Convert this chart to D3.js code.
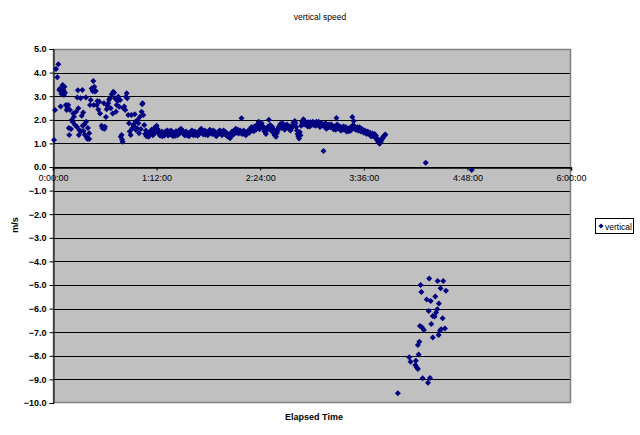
<!DOCTYPE html>
<html><head><meta charset="utf-8">
<script src="https://cdn.jsdelivr.net/npm/d3@7"></script>
<style>body{margin:0;background:#fff}svg{display:block}text{font-family:"Liberation Sans",Arial,sans-serif}</style>
</head><body><svg id="c" width="640" height="435"></svg>
<script>
// Elapsed time in minutes, vertical speed in m/s
const ascentEarly = [[0.7,1.14],[1.4,2.42],[2.1,4.15],[3.0,3.80],[3.7,4.35],[4.4,3.26],[4.9,3.33],[5.3,2.56],[5.8,3.10],[6.3,3.12],[6.7,3.47],[7.2,3.26],[7.6,3.05],[8.0,3.40],[8.4,3.15],[9.0,2.63],[9.5,2.42],[10.0,2.51],[10.6,2.63],[11.0,1.65],[11.3,1.36],[11.8,2.42],[12.5,1.61],[13.0,1.99],[13.7,1.92],[14.1,2.27],[14.6,2.13],[15.3,1.78],[16.0,2.34],[16.5,1.71],[16.9,2.94],[17.3,3.25],[17.6,2.49],[18.0,1.36],[18.3,1.57],[19.2,2.91],[19.6,1.50],[20.0,2.17],[20.4,3.26],[20.6,1.75],[21.0,2.31],[21.3,1.53],[21.8,1.80],[22.2,1.36],[22.9,2.94],[23.0,1.92],[23.4,1.28],[23.8,1.20],[24.3,1.65],[25.2,1.19],[25.2,1.43],[25.7,2.63],[26.2,2.84],[26.9,3.33],[27.6,3.22],[28.0,3.64],[28.3,2.63],[28.7,3.40],[29.2,3.20],[29.7,3.22],[30.4,2.63],[30.9,2.80],[31.5,2.44],[32.2,2.77],[32.7,2.27],[33.8,1.75],[34.3,1.65],[35.0,1.64],[35.4,2.70],[35.8,1.62],[36.1,1.71],[36.8,2.12],[37.3,2.45],[37.8,2.60],[38.4,2.70],[39.0,2.85],[39.6,2.91],[40.1,2.49],[40.8,3.08],[41.5,2.27],[41.9,3.19],[42.5,3.15],[43.1,2.91],[43.8,2.34],[44.3,2.63],[44.8,2.80],[45.4,2.98],[46.0,2.55],[46.6,2.84],[47.1,1.28],[47.7,1.36],[48.0,1.17],[48.4,1.07],[48.9,2.49],[49.5,2.56],[50.2,2.42],[50.7,2.98],[51.2,3.12],[51.6,2.91],[52.3,2.20],[52.8,1.85],[53.3,1.50],[54.0,1.36],[54.5,2.20],[55.1,1.64],[55.8,1.78],[56.3,1.71],[56.8,2.23],[57.3,1.92],[57.7,1.57],[58.3,1.64],[58.8,1.99],[59.3,1.85],[59.8,1.43],[60.5,2.13],[61.0,1.61],[61.6,2.34],[62.0,2.66],[62.3,2.70],[62.8,2.20],[63.4,1.78]];
const ascentSteady = [[64,1.40],[65,1.30],[66,1.45],[67,1.35],[68,1.50],[69,1.42],[70,1.60],[71,1.68],[72,1.75],[73,1.55],[74,1.45],[75,1.38],[76,1.30],[77,1.42],[78,1.50],[79,1.40],[80,1.33],[81,1.45],[82,1.55],[83,1.48],[84,1.38],[85,1.32],[86,1.42],[87,1.52],[88,1.58],[89,1.62],[90,1.55],[91,1.48],[92,1.40],[93,1.35],[94,1.42],[95,1.38],[96,1.45],[97,1.50],[98,1.42],[99,1.36],[100,1.40],[101,1.48],[102,1.55],[103,1.62],[104,1.50],[105,1.45],[106,1.38],[107,1.42],[108,1.50],[109,1.58],[110,1.52],[111,1.45],[112,1.40],[113,1.36],[114,1.44],[115,1.50],[116,1.55],[117,1.48],[118,1.42],[119,1.45],[120,1.38],[121,1.30],[122,1.35],[123,1.22],[124,1.32],[125,1.45],[126,1.55],[127,1.62],[128,1.50],[129,1.42],[130,1.55],[131,2.07],[132,1.48],[133,1.40],[134,1.35],[135,1.45],[136,1.55],[137,1.62],[138,1.70],[139,1.65],[140,1.72],[141,1.58],[142,1.80],[143,1.92],[144,1.75],[145,1.85],[146,1.68],[147,1.50],[148,1.40],[149,1.65],[150,2.00],[151,1.78],[152,1.62],[153,1.45],[154,1.35],[155,1.28],[156,1.50],[157,1.70],[158,1.82],[159,1.75],[160,1.65],[161,1.58],[162,1.68],[163,1.75],[164,1.62],[165,1.55],[166,1.68],[167,1.88],[168,1.95],[169,1.70],[170,1.40],[171,1.21],[172,1.35],[173,1.92],[174,2.02],[175,1.95],[176,1.85],[177,1.72],[178,1.80],[179,1.90],[180,1.85],[181,1.78],[182,1.88],[183,1.92],[184,1.85],[185,1.80],[186,1.88],[187,1.75],[188,0.68],[189,1.70],[190,1.62],[191,1.75],[192,1.80],[193,1.68],[194,1.72],[195,1.60],[196,1.65],[197,2.08],[198,1.75],[199,1.62],[200,1.55],[201,1.68],[202,1.72],[203,1.60],[204,1.50],[205,1.58],[206,1.65],[207,1.55],[208,2.12],[209,1.95],[210,1.70],[211,1.62],[212,1.55],[213,1.68],[214,1.50],[215,1.58],[216,1.45],[217,1.52],[218,1.40],[219,1.48],[220,1.38],[221,1.30],[222,1.42],[223,1.35],[224,1.25],[225,1.15],[226,1.05],[227,0.98],[228,1.10],[229,1.22],[230,1.30],[231,1.38]];
const ascentSteadyHalf = [[64.5,1.55],[65.5,1.38],[66.5,1.28],[67.5,1.48],[68.5,1.58],[69.5,1.35],[70.5,1.45],[71.5,1.52],[72.5,1.62],[73.5,1.40],[74.5,1.32],[75.5,1.50],[76.5,1.45],[77.5,1.33],[78.5,1.42],[79.5,1.55],[80.5,1.50],[81.5,1.38],[82.5,1.42],[83.5,1.30],[84.5,1.45],[85.5,1.52],[86.5,1.35],[87.5,1.40],[88.5,1.45],[89.5,1.50],[90.5,1.42],[91.5,1.35],[92.5,1.50],[93.5,1.45],[94.5,1.30],[95.5,1.48],[96.5,1.55],[97.5,1.35],[98.5,1.50],[99.5,1.45],[100.5,1.32],[101.5,1.40],[102.5,1.45],[103.5,1.50],[104.5,1.38],[105.5,1.55],[106.5,1.48],[107.5,1.35],[108.5,1.42],[109.5,1.48],[110.5,1.40],[111.5,1.55],[112.5,1.48],[113.5,1.30],[114.5,1.38],[115.5,1.42],[116.5,1.48],[117.5,1.35],[118.5,1.55],[119.5,1.50],[120.5,1.45],[121.5,1.40],[122.5,1.28],[123.5,1.40],[124.5,1.50],[125.5,1.38],[126.5,1.48],[127.5,1.45],[128.5,1.58],[129.5,1.50],[130.5,1.45],[131.5,1.40],[132.5,1.55],[133.5,1.48],[134.5,1.40],[135.5,1.52],[136.5,1.45],[137.5,1.55],[138.5,1.60],[139.5,1.52],[140.5,1.62],[141.5,1.70],[142.5,1.65],[143.5,1.60],[144.5,1.68],[145.5,1.75],[146.5,1.60],[147.5,1.62],[148.5,1.55],[149.5,1.72],[150.5,1.68],[151.5,1.55],[152.5,1.70],[153.5,1.58],[154.5,1.48],[155.5,1.42],[156.5,1.62],[157.5,1.75],[158.5,1.65],[159.5,1.85],[160.5,1.72],[161.5,1.65],[162.5,1.80],[163.5,1.68],[164.5,1.72],[165.5,1.62],[166.5,1.75],[167.5,1.80],[168.5,1.85],[169.5,1.55],[170.5,1.30],[171.5,1.48],[172.5,1.75],[173.5,1.85],[174.5,1.80],[175.5,1.88],[176.5,1.78],[177.5,1.90],[178.5,1.72],[179.5,1.82],[180.5,1.92],[181.5,1.85],[182.5,1.75],[183.5,1.80],[184.5,1.92],[185.5,1.70],[186.5,1.80],[187.5,1.82],[188.5,1.78],[189.5,1.85],[190.5,1.70],[191.5,1.68],[192.5,1.72],[193.5,1.80],[194.5,1.65],[195.5,1.72],[196.5,1.58],[197.5,1.80],[198.5,1.68],[199.5,1.72],[200.5,1.62],[201.5,1.58],[202.5,1.65],[203.5,1.70],[204.5,1.62],[205.5,1.52],[206.5,1.60],[207.5,1.70],[208.5,1.78],[209.5,1.62],[210.5,1.58],[211.5,1.68],[212.5,1.60],[213.5,1.55],[214.5,1.62],[215.5,1.50],[216.5,1.55],[217.5,1.45],[218.5,1.50],[219.5,1.42],[220.5,1.45],[221.5,1.35],[222.5,1.30],[223.5,1.40],[224.5,1.32],[225.5,1.20],[226.5,1.12],[227.5,1.05],[228.5,1.18],[229.5,1.28],[230.5,1.35]];
const descent = [[239.7,-9.59],[247.6,-8.06],[248.5,-8.25],[251.8,-8.39],[252.2,-8.21],[252.7,-8.49],[253.6,-8.56],[254.1,-7.94],[253.6,-7.54],[254.6,-7.40],[255.0,-6.74],[255.5,-5.00],[256.0,-5.30],[256.4,-6.79],[256.9,-8.95],[257.8,-6.91],[259.7,-5.61],[260.6,-9.14],[261.1,-6.10],[261.5,-4.72],[262.0,-8.94],[262.5,-5.68],[262.9,-6.65],[263.9,-6.31],[263.9,-7.22],[265.2,-6.34],[265.7,-5.49],[266.2,-6.17],[267.1,-6.03],[267.3,-4.83],[268.0,-7.12],[268.2,-5.78],[268.9,-6.93],[269.4,-5.14],[269.8,-6.88],[270.8,-6.41],[271.2,-4.83],[272.4,-6.84],[273.1,-5.24]];
const landed = [[259,0.18],[291,-0.13]];
const xTicks = [0,72,144,216,288,360];
const xTickLabels = ["0:00:00","1:12:00","2:24:00","3:36:00","4:48:00","6:00:00"];
const yTicks = d3.range(-10,5.5,1);
const seriesName = "vertical";

const svg = d3.select("#c");
const L=53,R=571,T=49,B=403;
const x = d3.scaleLinear().domain([0,360]).range([L,R]);
const y = d3.scaleLinear().domain([-10,5]).range([B,T]);

svg.append("rect").attr("x",L).attr("y",T).attr("width",R-L).attr("height",B-T).attr("fill","#c0c0c0");
// gridlines
svg.append("g").selectAll("line").data(yTicks.filter(v=>v!==-10)).join("line")
  .attr("x1",L).attr("x2",R).attr("y1",d=>Math.round(y(d))+0.5).attr("y2",d=>Math.round(y(d))+0.5)
  .attr("stroke","#000").attr("stroke-width",1);
// border
svg.append("rect").attr("x",L+0.5).attr("y",T+0.5).attr("width",R-L-1).attr("height",B-T-1)
  .attr("fill","none").attr("stroke","#808080").attr("stroke-width",1.5);

// y axis
const yAxis = d3.axisLeft(y).tickValues(yTicks).tickFormat(d3.format(".1f")).tickSize(4).tickPadding(3);
const gy = svg.append("g").attr("transform",`translate(${L+0.5},0)`).call(yAxis);
gy.select(".domain").attr("stroke","#000");
gy.selectAll("text").attr("font-size",9).attr("font-weight","bold").attr("fill","#000").style("font-family","'Liberation Sans',Arial,sans-serif");

// x axis at y=0
const xAxis = d3.axisBottom(x).tickValues(xTicks).tickFormat((d,i)=>xTickLabels[i]).tickSize(3).tickPadding(4);
const gx = svg.append("g").attr("transform",`translate(0,${Math.round(y(0))+0.5})`).call(xAxis);
gx.select(".domain").attr("stroke","#000").attr("stroke-width",1.5);
gx.selectAll("text").attr("font-size",9).attr("fill","#000").style("font-family","'Liberation Sans',Arial,sans-serif");

// points
const diamond = "M0,-3L3,0L0,3L-3,0Z";
const all = ascentEarly.concat(ascentSteady, ascentSteadyHalf, descent, landed);
svg.append("g").selectAll("path").data(all).join("path")
  .attr("d",diamond).attr("transform",d=>`translate(${x(d[0])},${y(d[1])})`).attr("fill","#000080");

// titles
svg.append("text").attr("x",320).attr("y",20).attr("text-anchor","middle").attr("font-size",8.5).text("vertical speed");
svg.append("text").attr("x",314).attr("y",420).attr("text-anchor","middle").attr("font-size",9).attr("font-weight","bold").text("Elapsed Time");
svg.append("text").attr("transform","translate(18,225) rotate(-90)").attr("text-anchor","middle").attr("font-size",9).attr("font-weight","bold").text("m/s");

// legend
const lg = svg.append("g");
lg.append("rect").attr("x",595.5).attr("y",218.5).attr("width",38).attr("height",15).attr("fill","#fff").attr("stroke","#000");
lg.append("path").attr("d","M0,-2.5L2.5,0L0,2.5L-2.5,0Z").attr("transform","translate(601,226)").attr("fill","#000080");
lg.append("text").attr("x",605).attr("y",229.5).attr("font-size",8.5).text(seriesName);
</script></body></html>
